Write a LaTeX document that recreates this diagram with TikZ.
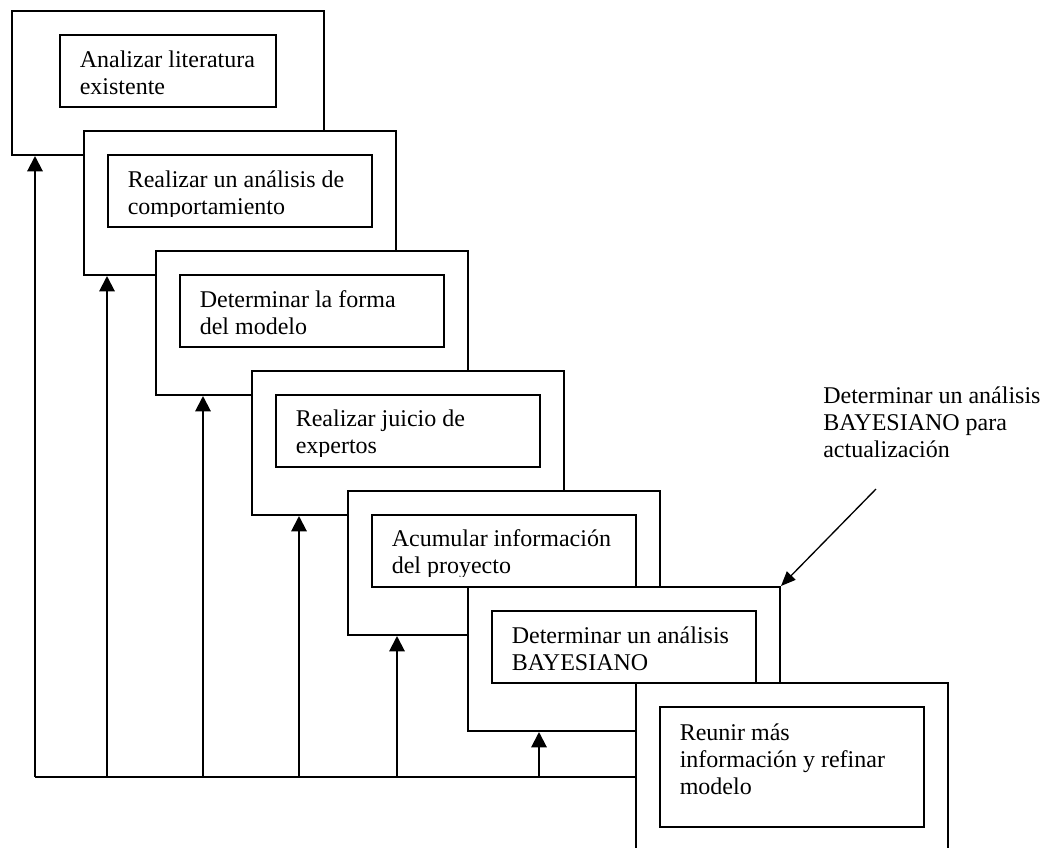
\documentclass[tikz,border=0pt]{standalone}
\usepackage{fontspec}
\setmainfont{Liberation Serif}
\usetikzlibrary{arrows.meta}
\begin{document}
\begin{tikzpicture}[x=0.75pt,y=-0.75pt,
  outerbox/.style={draw,fill=white,line width=1.5pt,inner sep=0pt,anchor=north west,
    minimum width=234pt,minimum height=108pt},
  innerbox/.style={draw,fill=white,line width=1.5pt,inner sep=0pt,anchor=north west,
    minimum width=198pt,minimum height=54pt},
  % base anchor of a multi-line node sits on its last line
  boxtext/.style={anchor=base west,align=left,inner sep=0pt,
    font=\fontsize{18pt}{20.25pt}\selectfont},
  feedback/.style={line width=1.5pt,-{Triangle[length=11.5pt,width=11.5pt]}},
  pointer/.style={line width=1pt,-{Triangle[length=11pt,width=9pt]}},
]
\clip (0,0) rectangle (1043,847);

% step 1
\node[outerbox] (o1) at (11,10) {};
\node[innerbox,minimum width=162pt] (i1) at (59,34) {};
\begin{scope}
  \clip (59,34) rectangle (275,96);
  \node[boxtext] (t1) at (79.5,94) {Analizar literatura\\existente};
\end{scope}

% step 2
\node[outerbox] (o2) at (83,130) {};
\node[innerbox] (i2) at (107,154) {};
\begin{scope}
  \clip (107,154) rectangle (371,216);
  \node[boxtext] (t2) at (127.5,214) {Realizar un análisis de\\comportamiento};
\end{scope}

% step 3
\node[outerbox] (o3) at (155,250) {};
\node[innerbox] (i3) at (179,274) {};
\begin{scope}
  \clip (179,274) rectangle (443,336);
  \node[boxtext] (t3) at (199.5,334) {Determinar la forma\\del modelo};
\end{scope}

% step 4
\node[outerbox] (o4) at (251,370) {};
\node[innerbox] (i4) at (275,394) {};
\begin{scope}
  \clip (275,394) rectangle (539,456);
  \node[boxtext] (t4) at (295.5,453.5) {Realizar juicio de\\expertos};
\end{scope}

% step 5
\node[outerbox] (o5) at (347,490) {};
\node[innerbox] (i5) at (371,514) {};
\begin{scope}
  \clip (371,514) rectangle (635,576);
  \node[boxtext] (t5) at (391.5,573.5) {Acumular información\\del proyecto};
\end{scope}

% step 6
\node[outerbox] (o6) at (467,586) {};
\node[innerbox] (i6) at (491,610) {};
\node[boxtext] (t6) at (511.5,670) {Determinar un análisis\\BAYESIANO};

% step 7 (runs off the lower edge)
\node[outerbox,minimum height=135pt] (o7) at (635,682) {};
\node[innerbox,minimum height=90pt] (i7) at (659,706) {};
\node[boxtext] (t7) at (679.5,794) {Reunir más\\información y refinar\\modelo};

% feedback to every earlier step
\coordinate (fb0) at (35,777);
\coordinate (fb1) at (107,777);
\coordinate (fb2) at (203,777);
\coordinate (fb3) at (299,777);
\coordinate (fb4) at (397,777);
\coordinate (fb5) at (539,777);
\draw[line width=1.5pt] (fb0) -- (o7.west |- fb0);
\draw[feedback] (fb0) -- (fb0 |- o1.south);
\draw[feedback] (fb1) -- (fb1 |- o2.south);
\draw[feedback] (fb2) -- (fb2 |- o3.south);
\draw[feedback] (fb3) -- (fb3 |- o4.south);
\draw[feedback] (fb4) -- (fb4 |- o5.south);
\draw[feedback] (fb5) -- (fb5 |- o6.south);

% annotation
\node[boxtext] (note) at (823,457) {Determinar un análisis\\BAYESIANO para\\actualización};
\coordinate (ns) at (876,489);
\draw[pointer] (ns) -- (o6.north east);
\end{tikzpicture}
\end{document}
